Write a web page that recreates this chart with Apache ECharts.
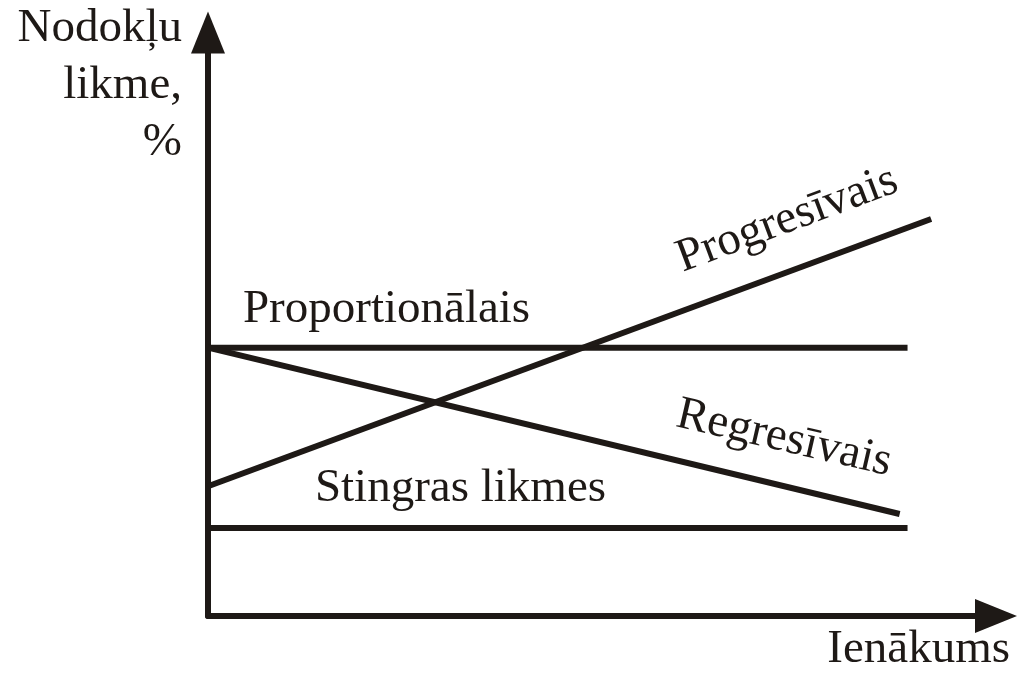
<!DOCTYPE html>
<html>
<head>
<meta charset="utf-8">
<title>Nodokļu likmes</title>
<script src="https://cdn.jsdelivr.net/npm/echarts@6/dist/echarts.min.js"></script>
<style>
  html, body { margin: 0; padding: 0; background: #fff; }
  #chart { width: 1023px; height: 675px; }
</style>
</head>
<body>
<div id="chart"></div>
<script>
  // axis range (schematic, no units)
  const xMax = 100
  const yMax = 100

  // lines: start / end points
  const proportionalX = [0, 89]
  const proportionalY = [46.3, 46.3]
  const regressiveX = [0, 88]
  const regressiveY = [46.3, 17.6]
  const progressiveX = [0, 92]
  const progressiveY = [22.4, 68.5]
  const fixedX = [0, 89]
  const fixedY = [15.2, 15.2]

  // texts
  const yAxisTitle = 'Nodokļu\nlikme,\n%'
  const xAxisTitle = 'Ienākums'
  const labelTexts = ['Proportionālais', 'Regresīvais', 'Progresīvais', 'Stingras likmes']
  const labelX = [4.45, 73.3, 73.7, 13.6]
  const labelY = [52.8, 30.6, 68.4, 21.9]

  const ink = '#1e1916'
  const font = 'Liberation Serif'

  function pairs(xs, ys) {
    return xs.map((x, i) => [x, ys[i]])
  }

  function lineSeries(name, xs, ys) {
    return {
      name: name,
      type: 'line',
      data: pairs(xs, ys),
      symbol: 'none',
      silent: true,
      lineStyle: { color: ink, width: 6, cap: 'butt' }
    }
  }

  const labelStyles = [
    { align: 'left', rotate: 0 },
    { align: 'center', rotate: -13 },
    { align: 'center', rotate: 20.5 },
    { align: 'left', rotate: 0 }
  ]

  const chart = echarts.init(document.getElementById('chart'))
  chart.setOption({
    animation: false,
    backgroundColor: '#fff',
    grid: { left: 208, top: 31, right: 29, bottom: 59 },
    xAxis: {
      type: 'value',
      min: 0,
      max: xMax,
      name: xAxisTitle,
      nameLocation: 'end',
      nameGap: 16,
      nameTextStyle: {
        fontFamily: font, fontSize: 47, color: ink,
        align: 'right', verticalAlign: 'top', lineHeight: 47,
        padding: [10, 0, 0, 0]
      },
      axisLine: {
        show: true,
        symbol: ['none', 'triangle'],
        symbolSize: [34, 42],
        symbolOffset: [0, 2],
        lineStyle: { color: ink, width: 6 }
      },
      axisTick: { show: false },
      axisLabel: { show: false },
      splitLine: { show: false }
    },
    yAxis: {
      type: 'value',
      min: 0,
      max: yMax,
      name: yAxisTitle,
      nameLocation: 'end',
      nameGap: 36.5,
      nameTextStyle: {
        fontFamily: font, fontSize: 47, color: ink,
        align: 'right', verticalAlign: 'top', lineHeight: 57,
        padding: [0, 26, 0, 0]
      },
      axisLine: {
        show: true,
        symbol: ['none', 'triangle'],
        symbolSize: [34, 42],
        symbolOffset: [0, 4],
        lineStyle: { color: ink, width: 6 }
      },
      axisTick: { show: false },
      axisLabel: { show: false },
      splitLine: { show: false }
    },
    series: [
      lineSeries(labelTexts[0], proportionalX, proportionalY),
      lineSeries(labelTexts[1], regressiveX, regressiveY),
      lineSeries(labelTexts[2], progressiveX, progressiveY),
      lineSeries(labelTexts[3], fixedX, fixedY),
      {
        type: 'scatter',
        symbolSize: 0,
        silent: true,
        clip: false,
        itemStyle: { opacity: 1, color: ink },
        data: labelTexts.map((t, i) => ({
          value: [labelX[i], labelY[i]],
          label: {
            show: true,
            formatter: t,
            position: 'inside',
            align: labelStyles[i].align,
            verticalAlign: 'middle',
            rotate: labelStyles[i].rotate,
            fontFamily: font,
            fontSize: 47,
            color: ink,
            opacity: 1,
            textBorderWidth: 0
          }
        }))
      }
    ]
  })
</script>
</body>
</html>
